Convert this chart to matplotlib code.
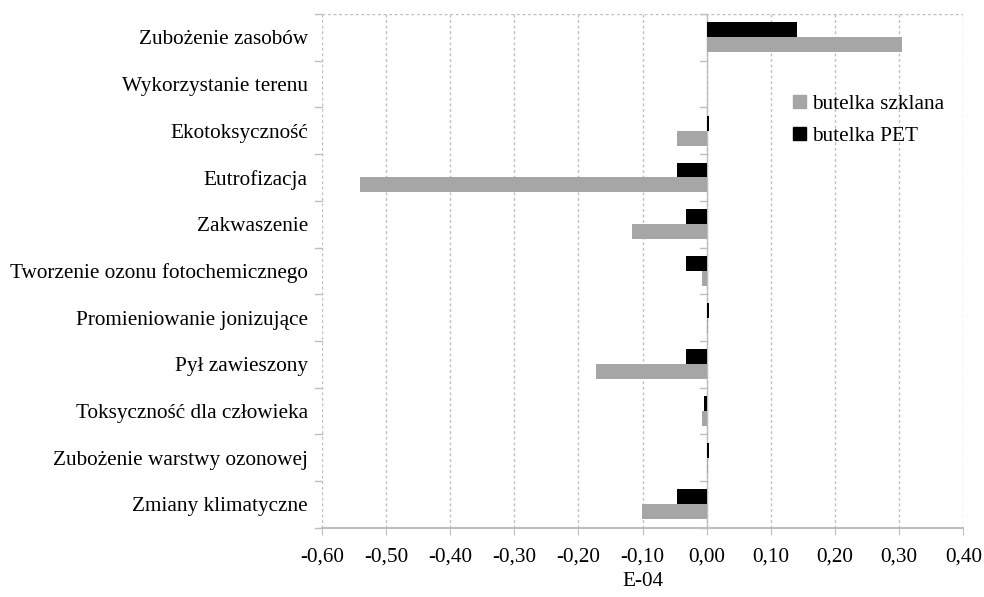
import numpy as np
import matplotlib.pyplot as plt
from matplotlib.patches import Patch

# kategorie wpływu (od góry do dołu)
categories = ['Zubożenie zasobów', 'Wykorzystanie terenu', 'Ekotoksyczność',
              'Eutrofizacja', 'Zakwaszenie', 'Tworzenie ozonu fotochemicznego',
              'Promieniowanie jonizujące', 'Pył zawieszony',
              'Toksyczność dla człowieka', 'Zubożenie warstwy ozonowej',
              'Zmiany klimatyczne']
# wartości w jednostkach E-04
glass = [0.305, 0.0, -0.047, -0.540, -0.117, -0.008, 0.002, -0.172, -0.008, 0.002, -0.101]
pet = [0.140, 0.0, 0.003, -0.047, -0.032, -0.032, 0.003, -0.032, -0.004, 0.003, -0.047]
xticks = [-0.6, -0.5, -0.4, -0.3, -0.2, -0.1, 0.0, 0.1, 0.2, 0.3, 0.4]

plt.rcParams['font.family'] = 'Liberation Serif'
grey = '#a6a6a6'
axis_col = '#bfbfbf'
fs = 15.3

fig = plt.figure(figsize=(9.84, 5.97), dpi=100)
ax = fig.add_axes([0.327, 0.116, 0.652, 0.8605])

y = np.arange(len(categories))
h = 0.32
ax.barh(y - h / 2, pet, height=h, color='black', label='butelka PET', zorder=3)
ax.barh(y + h / 2, glass, height=h, color=grey, label='butelka szklana', zorder=3)

ax.set_xlim(-0.6, 0.4)
ax.set_ylim(len(categories) - 0.5, -0.5)
ax.set_xticks(xticks)
ax.set_xticklabels([('%.2f' % v).replace('.', ',') for v in xticks])
ax.set_yticks(y)
ax.set_yticklabels(categories)
ax.tick_params(axis='y', length=0, pad=10, labelsize=fs)
ax.tick_params(axis='x', length=5, color=axis_col, pad=9, labelsize=fs)
ax.set_xlabel('E-04', fontsize=fs, labelpad=4)

# siatka i ramka
ax.grid(axis='x', linestyle=(0, (2, 2)), color=axis_col, linewidth=1, zorder=0)
for s in ['left', 'right', 'top']:
    ax.spines[s].set_visible(False)
ax.spines['bottom'].set_color(axis_col)
ax.spines['bottom'].set_linewidth(1.5)
ax.axhline(-0.5, color=axis_col, linestyle=(0, (2, 2)), linewidth=1, zorder=0)

# kreski podziału kategorii przy osi 0 i z lewej strony
for b in np.arange(-0.5, len(categories), 1.0):
    ax.plot([-0.011, 0], [b, b], color=axis_col, linewidth=1, zorder=2, clip_on=False)
    ax.plot([-0.611, -0.6], [b, b], color=axis_col, linewidth=1, zorder=2, clip_on=False)
ax.axvline(0, color=axis_col, linewidth=1, zorder=2)

handles = [Patch(color=grey, label='butelka szklana'), Patch(color='black', label='butelka PET')]
ax.legend(handles=handles, loc='upper left', bbox_to_anchor=(0.735, 0.843), frameon=False,
          borderpad=0, borderaxespad=0, fontsize=fs, handlelength=0.6, handleheight=0.6,
          handletextpad=0.3, labelspacing=0.6)

fig.savefig('out.png', dpi=100)
